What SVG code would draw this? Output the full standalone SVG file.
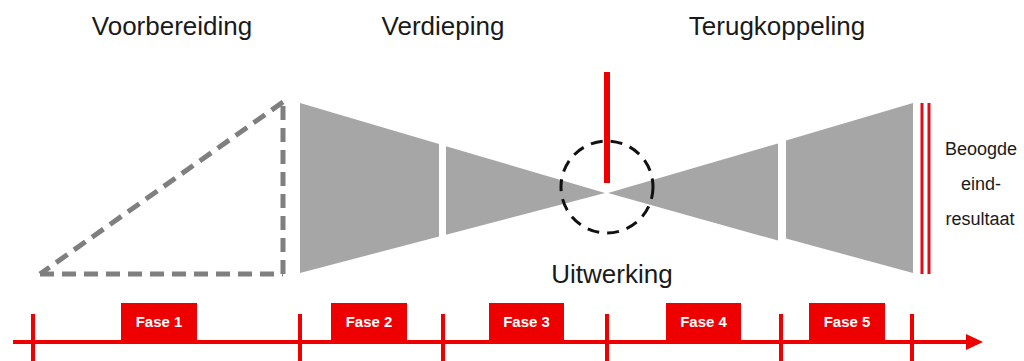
<svg xmlns="http://www.w3.org/2000/svg" width="1024" height="361" viewBox="0 0 1024 361">
  <style>
    .head { font-family: "Liberation Sans", Arial, sans-serif; font-size: 26px; fill: #1a1a1a; text-anchor: middle; }
    .small { font-family: "Liberation Sans", Arial, sans-serif; font-size: 18px; fill: #1a1a1a; text-anchor: middle; }
    .fase { font-family: "Liberation Sans", Arial, sans-serif; font-size: 15px; font-weight: bold; fill: #ffffff; text-anchor: middle; }
    .gray { fill: #a6a6a6; }
    .red { fill: #ee0000; }
    .tick { stroke: #ee0000; stroke-width: 4; }
  </style>
  <rect width="1024" height="361" fill="#ffffff"/>

  <!-- headings -->
  <g id="label-voorbereiding"><text class="head" x="172" y="35">Voorbereiding</text></g>
  <g id="label-verdieping"><text class="head" x="443" y="35">Verdieping</text></g>
  <g id="label-terugkoppeling"><text class="head" x="777" y="35">Terugkoppeling</text></g>

  <!-- dashed triangle -->
  <g id="dashed-triangle" fill="none" stroke="#7f7f7f" stroke-width="5" stroke-dasharray="14 8">
    <path d="M 40 274 L 283 274"/>
    <path d="M 283 274 L 283 102"/>
    <path d="M 283 102 L 40 274"/>
  </g>

  <!-- left funnel -->
  <g id="funnel-left">
    <polygon class="gray" points="300,103 439,144.1 439,236.5 300,273"/>
    <polygon class="gray" points="446,146.2 605,193 446,234.7"/>
  </g>

  <!-- right funnel -->
  <g id="funnel-right">
    <polygon class="gray" points="608,193 778,143.4 778,240.6"/>
    <polygon class="gray" points="786,140.6 913,103 913,273 786,238.5"/>
  </g>

  <!-- middle marker -->
  <g id="uitwerking">
    <rect class="red" x="604" y="72" width="6" height="111"/>
    <circle cx="607" cy="187" r="46" fill="none" stroke="#111111" stroke-width="3" stroke-dasharray="12 8"/>
    <text class="head" x="612" y="283">Uitwerking</text>
  </g>

  <!-- end result -->
  <g id="eindresultaat">
    <rect x="920.5" y="103" width="3" height="171" fill="#d9101a"/>
    <rect x="927.5" y="103" width="3" height="171" fill="#d9101a"/>
    <text class="small" x="981" y="155">Beoogde</text>
    <text class="small" x="981" y="190">eind-</text>
    <text class="small" x="980" y="225">resultaat</text>
  </g>

  <!-- timeline -->
  <g id="connectors">
    <line x1="13" y1="342" x2="970" y2="342" stroke="#ee0000" stroke-width="4"/>
    <polygon class="red" points="966,334 983,342 966,350"/>
    <line class="tick" x1="33" y1="314" x2="33" y2="361"/>
    <line class="tick" x1="300" y1="314" x2="300" y2="361"/>
    <line class="tick" x1="443" y1="314" x2="443" y2="361"/>
    <line class="tick" x1="607" y1="314" x2="607" y2="361"/>
    <line class="tick" x1="781" y1="314" x2="781" y2="361"/>
    <line class="tick" x1="912" y1="314" x2="912" y2="361"/>
  </g>

  <g id="fase1"><rect class="red" x="121" y="303" width="76" height="39"/><text class="fase" x="159" y="327">Fase 1</text></g>
  <g id="fase2"><rect class="red" x="331" y="303" width="76" height="39"/><text class="fase" x="369" y="327">Fase 2</text></g>
  <g id="fase3"><rect class="red" x="489" y="303" width="75" height="39"/><text class="fase" x="526.5" y="327">Fase 3</text></g>
  <g id="fase4"><rect class="red" x="666" y="303" width="75" height="39"/><text class="fase" x="703.5" y="327">Fase 4</text></g>
  <g id="fase5"><rect class="red" x="809" y="303" width="76" height="39"/><text class="fase" x="847" y="327">Fase 5</text></g>
</svg>
